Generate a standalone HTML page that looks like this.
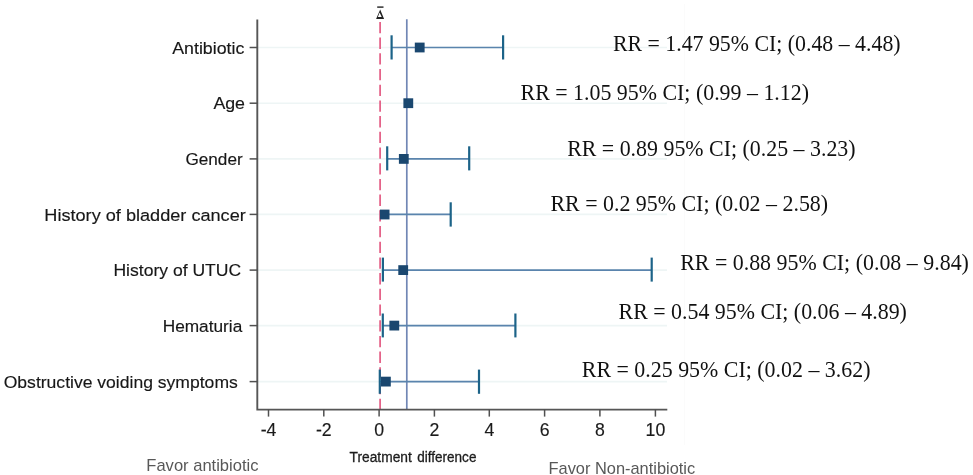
<!DOCTYPE html>
<html>
<head>
<meta charset="utf-8">
<title>Forest plot</title>
<style>
  html, body { margin: 0; padding: 0; background: #ffffff; }
  body { width: 973px; height: 475px; overflow: hidden; font-family: "Liberation Sans", sans-serif; }
  svg { display: block; filter: blur(0.45px); }
  .lab  { font-family: "Liberation Sans", sans-serif; font-size: 17.1px; fill: #171717; stroke: #171717; stroke-width: 0.15px; }
  .tick { font-family: "Liberation Sans", sans-serif; font-size: 17.7px; fill: #1a1a1a; stroke: #1a1a1a; stroke-width: 0.15px; text-anchor: middle; }
  .rr   { font-family: "Liberation Serif", serif; font-size: 22.5px; fill: #111111; }
  .fav  { font-family: "Liberation Sans", sans-serif; font-size: 15.9px; fill: #585858; }
  .xt   { font-family: "Liberation Sans", sans-serif; font-size: 13.8px; fill: #1c1c1c; stroke: #1c1c1c; stroke-width: 0.3px; }
  .grid { stroke: #eef5f5; stroke-width: 1.6; }
  .ax   { stroke: #565656; stroke-width: 1.9; fill: none; }
  .tk   { stroke: #505050; stroke-width: 1.5; }
  .ci   { stroke: #5a84ad; stroke-width: 1.6; }
  .cap  { stroke: #1c6388; stroke-width: 2.2; }
  .mk   { fill: #1a476f; }
</style>
</head>
<body>
<svg width="973" height="475" viewBox="0 0 973 475">
  <rect x="0" y="0" width="973" height="475" fill="#ffffff"/>

  <!-- horizontal grid lines -->
  <g class="grid">
    <line x1="258" y1="47.5"  x2="667" y2="47.5"/>
    <line x1="258" y1="103.2" x2="667" y2="103.2"/>
    <line x1="258" y1="158.9" x2="667" y2="158.9"/>
    <line x1="258" y1="214.4" x2="667" y2="214.4"/>
    <line x1="258" y1="270.1" x2="667" y2="270.1"/>
    <line x1="258" y1="325.6" x2="667" y2="325.6"/>
    <line x1="258" y1="381.6" x2="667" y2="381.6"/>
  </g>

  <line x1="684.5" y1="4" x2="684.5" y2="445" stroke="#fbfbfb" stroke-width="1"/>

  <!-- reference lines -->
  <line x1="406.8" y1="19.3" x2="406.8" y2="409.5" stroke="#7187b5" stroke-width="1.7"/>
  <line x1="380.1" y1="21.9" x2="380.1" y2="409.5" stroke="#e35c84" stroke-width="1.7" stroke-dasharray="11.3 4.4"/>

  <!-- delta-bar symbol -->
  <g fill="#222222">
    <rect x="377.2" y="6.4" width="6.3" height="1.4"/>
    <path fill-rule="evenodd" d="M376.1 18.9 L380.2 9.5 L384.1 18.9 Z M377.9 17.0 L381.7 17.0 L379.6 12.4 Z"/>
  </g>

  <!-- axes -->
  <path class="ax" d="M257.3 19.5 V409.6 H667.3"/>
  <g class="tk">
    <line x1="249.6" y1="47.5"  x2="257.5" y2="47.5"/>
    <line x1="249.6" y1="103.2" x2="257.5" y2="103.2"/>
    <line x1="249.6" y1="158.9" x2="257.5" y2="158.9"/>
    <line x1="249.6" y1="214.4" x2="257.5" y2="214.4"/>
    <line x1="249.6" y1="270.1" x2="257.5" y2="270.1"/>
    <line x1="249.6" y1="325.6" x2="257.5" y2="325.6"/>
    <line x1="249.6" y1="381.6" x2="257.5" y2="381.6"/>
    <line x1="268.5" y1="409.6" x2="268.5" y2="416.6"/>
    <line x1="323.8" y1="409.6" x2="323.8" y2="416.6"/>
    <line x1="379.1" y1="409.6" x2="379.1" y2="416.6"/>
    <line x1="434.4" y1="409.6" x2="434.4" y2="416.6"/>
    <line x1="489.3" y1="409.6" x2="489.3" y2="416.6"/>
    <line x1="544.6" y1="409.6" x2="544.6" y2="416.6"/>
    <line x1="599.9" y1="409.6" x2="599.9" y2="416.6"/>
    <line x1="655.4" y1="409.6" x2="655.4" y2="416.6"/>
  </g>

  <!-- CI bars -->
  <g class="ci">
    <line x1="391.6" y1="47.5"  x2="503.1" y2="47.5"/>
    <line x1="387.2" y1="158.9" x2="469.2" y2="158.9"/>
    <line x1="384"   y1="214.4" x2="450.7" y2="214.4"/>
    <line x1="382.9" y1="270.1" x2="651.7" y2="270.1"/>
    <line x1="382.8" y1="325.6" x2="515.4" y2="325.6"/>
    <line x1="379.8" y1="381.6" x2="479"   y2="381.6"/>
  </g>
  <g class="cap">
    <line x1="391.6" y1="35.3"  x2="391.6" y2="59.5"/>
    <line x1="503.1" y1="35.3"  x2="503.1" y2="59.5"/>
    <line x1="387.2" y1="146.3" x2="387.2" y2="170.4"/>
    <line x1="469.2" y1="146.3" x2="469.2" y2="170.4"/>
    <line x1="450.7" y1="202.3" x2="450.7" y2="226.6"/>
    <line x1="382.9" y1="257.6" x2="382.9" y2="281.6"/>
    <line x1="651.7" y1="257.6" x2="651.7" y2="281.6"/>
    <line x1="382.8" y1="313.5" x2="382.8" y2="337.4"/>
    <line x1="515.4" y1="313.5" x2="515.4" y2="337.4"/>
    <line x1="379.8" y1="369.6" x2="379.8" y2="393.8"/>
    <line x1="479"   y1="369.6" x2="479"   y2="393.8"/>
  </g>

  <!-- point estimates -->
  <g class="mk">
    <rect x="414.8" y="42.6"  width="9.8" height="9.8"/>
    <rect x="403.4" y="98.3"  width="9.8" height="9.8"/>
    <rect x="398.9" y="154.0" width="9.8" height="9.8"/>
    <rect x="379.9" y="209.6" width="9.6" height="9.8"/>
    <rect x="398.3" y="265.2" width="9.8" height="9.8"/>
    <rect x="389.4" y="320.7" width="9.8" height="9.8"/>
    <rect x="381.0" y="376.7" width="9.8" height="9.8"/>
  </g>

  <!-- row labels -->
  <g class="lab">
    <text x="172.2" y="53.7"  textLength="72.2"  lengthAdjust="spacingAndGlyphs">Antibiotic</text>
    <text x="213.4" y="109.3" textLength="31.6"  lengthAdjust="spacingAndGlyphs">Age</text>
    <text x="185.4" y="165.0" textLength="57.3"  lengthAdjust="spacingAndGlyphs">Gender</text>
    <text x="44.3"  y="220.6" textLength="201.5" lengthAdjust="spacingAndGlyphs">History of bladder cancer</text>
    <text x="113.4" y="276.3" textLength="127.8" lengthAdjust="spacingAndGlyphs">History of UTUC</text>
    <text x="162.7" y="332.0" textLength="79.6"  lengthAdjust="spacingAndGlyphs">Hematuria</text>
    <text x="3.7"   y="388.0" textLength="234.1" lengthAdjust="spacingAndGlyphs">Obstructive voiding symptoms</text>
  </g>

  <!-- x tick labels -->
  <g class="tick">
    <text x="268.5" y="436.4">-4</text>
    <text x="323.8" y="436.4">-2</text>
    <text x="379.1" y="436.4">0</text>
    <text x="434.4" y="436.4">2</text>
    <text x="489.3" y="436.4">4</text>
    <text x="544.6" y="436.4">6</text>
    <text x="599.9" y="436.4">8</text>
    <text x="655.4" y="436.4">10</text>
  </g>

  <!-- annotations -->
  <g class="rr">
    <text x="612.9" y="50.9" textLength="287.7"   lengthAdjust="spacingAndGlyphs">RR = 1.47 95% CI; (0.48 – 4.48)</text>
    <text x="520.6" y="99.6" textLength="288.4" lengthAdjust="spacingAndGlyphs">RR = 1.05 95% CI; (0.99 – 1.12)</text>
    <text x="567.2" y="155.9" textLength="288.4" lengthAdjust="spacingAndGlyphs">RR = 0.89 95% CI; (0.25 – 3.23)</text>
    <text x="550.5" y="211.0" textLength="277.6" lengthAdjust="spacingAndGlyphs">RR = 0.2 95% CI; (0.02 – 2.58)</text>
    <text x="680.2" y="269.7" textLength="288.7"   lengthAdjust="spacingAndGlyphs">RR = 0.88 95% CI; (0.08 – 9.84)</text>
    <text x="618.6" y="318.8" textLength="288.3" lengthAdjust="spacingAndGlyphs">RR = 0.54 95% CI; (0.06 – 4.89)</text>
    <text x="581.8" y="376.6" textLength="288.7"   lengthAdjust="spacingAndGlyphs">RR = 0.25 95% CI; (0.02 – 3.62)</text>
  </g>

  <!-- bottom captions -->
  <text class="fav" x="146.3" y="470.8" textLength="112.2" lengthAdjust="spacingAndGlyphs">Favor antibiotic</text>
  <text class="xt"  x="349.6" y="461.6" textLength="62.2" lengthAdjust="spacingAndGlyphs">Treatment</text>
  <text class="xt"  x="417.3" y="461.6" textLength="59.1" lengthAdjust="spacingAndGlyphs">difference</text>
  <text class="fav" x="548.5" y="473.7" textLength="146.7" lengthAdjust="spacingAndGlyphs">Favor Non-antibiotic</text>
</svg>
</body>
</html>
